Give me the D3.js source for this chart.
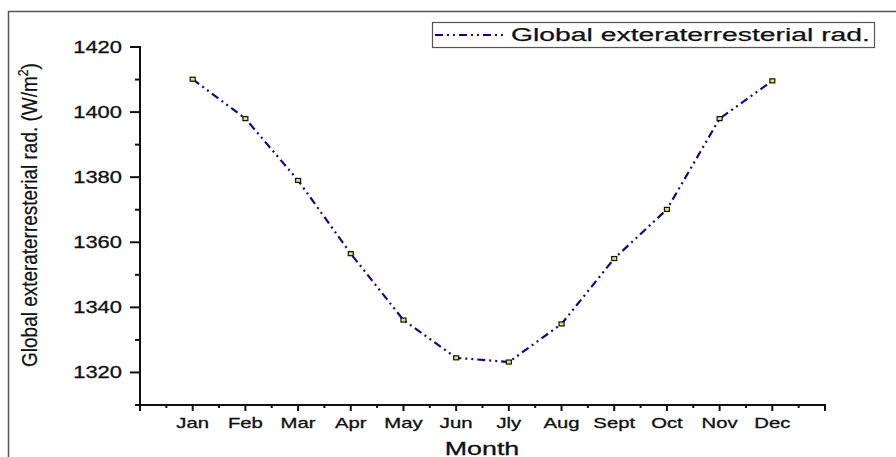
<!DOCTYPE html>
<html>
<head>
<meta charset="utf-8">
<script src="https://cdn.jsdelivr.net/npm/d3@7"></script>
<style>
  html, body { margin: 0; padding: 0; background: #fff; }
  svg { display: block; }
  text { font-family: "Liberation Sans", Arial, sans-serif; }
</style>
</head>
<body>
<svg id="chart" width="896" height="457"></svg>
<script>
// Monthly global extraterrestrial radiation (W/m²)
const months = ["Jan", "Feb", "Mar", "Apr", "May", "Jun", "Jly", "Aug", "Sept", "Oct", "Nov", "Dec"];
const radiation = [1410.1, 1398.0, 1379.0, 1356.5, 1336.1, 1324.5, 1323.2, 1334.9, 1355.0, 1370.1, 1398.0, 1409.6];
const yTicks = [1320, 1340, 1360, 1380, 1400, 1420];
const seriesName = "Global exteraterresterial rad.";

const svg = d3.select("#chart");
const W = 896, H = 457;

// Outer frame (open on right and bottom)
svg.append("path")
  .attr("d", `M8.5,${H} V11.5 H${W}`)
  .attr("fill", "none").attr("stroke", "#555").attr("stroke-width", 1.5);

const x = d3.scaleLinear().domain([0, 13]).range([140, 825]);
const y = d3.scaleLinear().domain([1310, 1420]).range([405, 47]);

const axisColor = "#111";
const textColor = "#111";

// text drawn with a horizontal stretch, anchored at (px, py)
function wideText(g, px, py, str, size, sx, anchor) {
  return g.append("text")
    .attr("transform", `translate(${px},${py}) scale(${sx},1)`)
    .attr("dy", "0.36em")
    .attr("text-anchor", anchor)
    .attr("font-size", size)
    .attr("fill", textColor)
    .attr("stroke", textColor).attr("stroke-width", 0.3)
    .text(str);
}

// Y axis: line, major + minor ticks, labels
const gy = svg.append("g");
gy.append("line").attr("x1", 140).attr("x2", 140).attr("y1", y(1420) - 1).attr("y2", y(1310) + 1)
  .attr("stroke", axisColor).attr("stroke-width", 2);
const yMinor = d3.range(1310, 1421, 10).filter(v => !yTicks.includes(v));
gy.selectAll("line.major").data(yTicks).join("line")
  .attr("x1", 130).attr("x2", 140).attr("y1", d => y(d)).attr("y2", d => y(d))
  .attr("stroke", axisColor).attr("stroke-width", 2);
gy.selectAll("line.minor").data(yMinor).join("line")
  .attr("x1", 135).attr("x2", 140).attr("y1", d => y(d)).attr("y2", d => y(d))
  .attr("stroke", axisColor).attr("stroke-width", 2);
yTicks.forEach(v => wideText(gy, 122, y(v), String(v), 16.5, 1.33, "end"));

// X axis: line, major + minor ticks, month labels
const gx = svg.append("g");
gx.append("line").attr("x1", x(0) - 1).attr("x2", x(13) + 1).attr("y1", 405).attr("y2", 405)
  .attr("stroke", axisColor).attr("stroke-width", 2);
gx.selectAll("line.major").data(d3.range(0, 14)).join("line")
  .attr("x1", d => x(d)).attr("x2", d => x(d)).attr("y1", 405).attr("y2", 411)
  .attr("stroke", axisColor).attr("stroke-width", 2);
gx.selectAll("line.minor").data(d3.range(0.5, 13, 1)).join("line")
  .attr("x1", d => x(d)).attr("x2", d => x(d)).attr("y1", 405).attr("y2", 408)
  .attr("stroke", axisColor).attr("stroke-width", 2);
months.forEach((m, i) => wideText(gx, x(i + 1), 423, m, 14.5, 1.4, "middle"));

// Axis titles
wideText(svg, 482, 448, "Month", 18.5, 1.45, "middle");

const yTitle = svg.append("text")
  .attr("font-size", 23).attr("fill", textColor).attr("text-anchor", "middle")
  .attr("stroke", textColor).attr("stroke-width", 0.25);
yTitle.append("tspan").text("Global exteraterresterial rad. (W/m");
yTitle.append("tspan").attr("font-size", 15).attr("dy", -9).text("2");
yTitle.append("tspan").attr("dy", 9).text(")");
// fit the rotated title to its span along the axis
const targetLen = 304;
const bb = yTitle.node().getBBox();
const sx = targetLen / bb.width;
yTitle.attr("transform", `translate(37,215) rotate(-90) scale(${sx},1) translate(${-(bb.x + bb.width / 2)},0)`);

// Series line
const lineColor = "#0a0a8c";
const dashPattern = "8,4,2,4,2,4";
const pts = radiation.map((v, i) => [x(i + 1), y(v)]);
svg.append("path")
  .attr("d", d3.line()(pts))
  .attr("fill", "none").attr("stroke", lineColor).attr("stroke-width", 2.2)
  .attr("stroke-dasharray", dashPattern);

// Point markers
svg.selectAll("rect.pt").data(radiation).join("rect")
  .attr("x", (d, i) => x(i + 1) - 2.5).attr("y", d => y(d) - 2)
  .attr("width", 5).attr("height", 4)
  .attr("fill", "#e8e060").attr("stroke", "#111").attr("stroke-width", 1.2);

// Legend
const lg = svg.append("g");
lg.append("rect").attr("x", 432.5).attr("y", 22.5).attr("width", 442).attr("height", 25)
  .attr("fill", "#fff").attr("stroke", "#555").attr("stroke-width", 1.2);
lg.append("line").attr("x1", 435).attr("x2", 506).attr("y1", 35).attr("y2", 35)
  .attr("stroke", lineColor).attr("stroke-width", 2).attr("stroke-dasharray", dashPattern);
lg.append("text").attr("x", 511).attr("y", 35).attr("dy", "0.36em")
  .attr("font-size", 18).attr("textLength", 359).attr("lengthAdjust", "spacingAndGlyphs")
  .attr("fill", textColor).attr("stroke", textColor).attr("stroke-width", 0.25)
  .text(seriesName);
</script>
</body>
</html>
